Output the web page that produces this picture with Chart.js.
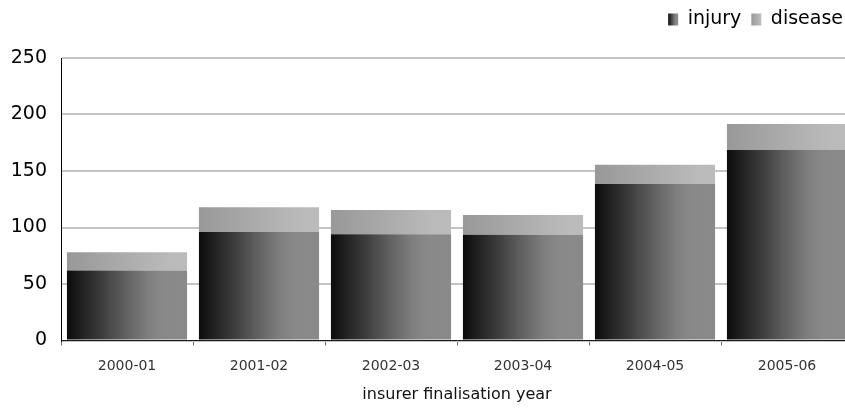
<!DOCTYPE html>
<html>
<head>
<meta charset="utf-8">
<script src="https://cdn.jsdelivr.net/npm/chart.js@4/dist/chart.umd.min.js"></script>
<style>
  html, body { margin: 0; padding: 0; background: #fff; }
  #wrap { width: 845px; height: 408px; overflow: hidden; }
  canvas { display: block; }
</style>
</head>
<body>
<div id="wrap"><canvas id="c" width="853" height="408"></canvas></div>
<script>
// Finalised claims by insurer finalisation year
const years = ['2000-01', '2001-02', '2002-03', '2003-04', '2004-05', '2005-06'];
const injury = [62, 96, 94, 93.5, 138.5, 168.5];
const disease = [16, 22, 21.5, 17.5, 17, 23];
const yTicks = [0, 50, 100, 150, 200, 250];
const seriesNames = ['injury', 'disease'];
const axisTitle = 'insurer finalisation year';

const FONT = "'DejaVu Sans', 'Liberation Sans', Arial, sans-serif";

// Horizontal shading used for each bar segment
const injuryStops = [[0, '#0c0c0c'], [0.33, '#444444'], [0.5, '#636363'], [0.67, '#7e7e7e'], [0.8, '#898989'], [1, '#8a8a8a']];
const diseaseStops = [[0, '#989898'], [0.5, '#acacac'], [0.85, '#bababa'], [1, '#bbbbbb']];

function makeGradient(ctx2d, x0, x1, stops) {
  const g = ctx2d.createLinearGradient(x0, 0, x1, 0);
  stops.forEach(([o, c]) => g.addColorStop(o, c));
  return g;
}

const BAR_PCT = 0.91;
const LEGEND_BAND = 58; // height reserved above the plot for the legend row

function barFill(stops, fallback) {
  return (ctx) => {
    const chart = ctx.chart;
    if (ctx.type !== 'data' || !chart.chartArea || !chart.scales.x) return fallback;
    const xs = chart.scales.x;
    const cx = xs.getPixelForValue(ctx.dataIndex);
    const half = (xs.width / years.length) * BAR_PCT / 2;
    return makeGradient(chart.ctx, cx - half, cx + half, stops);
  };
}

// Reserve a fixed band for the legend, with its row kept at the top
const legendBand = {
  id: 'legendBand',
  beforeLayout(chart) {
    const lg = chart.legend;
    if (!lg || lg._bandPatched) return;
    const fit = lg.fit.bind(lg);
    lg.fit = function () { fit(); this.height = LEGEND_BAND; };
    lg._bandPatched = true;
  }
};

// Give the legend swatches the same shading as the bars
const legendShade = {
  id: 'legendShade',
  beforeDraw(chart) {
    const lg = chart.legend;
    if (!lg || !lg.legendItems || !lg.legendHitBoxes) return;
    const all = [injuryStops, diseaseStops];
    lg.legendItems.forEach((item, i) => {
      const hb = lg.legendHitBoxes[i];
      if (!hb) return;
      item.fillStyle = makeGradient(chart.ctx, hb.left, hb.left + 10, all[item.datasetIndex]);
      item.strokeStyle = 'rgba(0,0,0,0)';
      item.lineWidth = 0;
    });
  }
};

new Chart(document.getElementById('c'), {
  type: 'bar',
  data: {
    labels: years,
    datasets: [
      { label: seriesNames[0], data: injury, backgroundColor: barFill(injuryStops, '#555555'), borderWidth: 0 },
      { label: seriesNames[1], data: disease, backgroundColor: barFill(diseaseStops, '#aaaaaa'), borderWidth: 0 }
    ]
  },
  options: {
    responsive: false,
    animation: false,
    devicePixelRatio: 1,
    barPercentage: BAR_PCT,
    categoryPercentage: 1,
    layout: { padding: { left: 0, right: 0, top: 0, bottom: 0 } },
    plugins: {
      tooltip: { enabled: false },
      legend: {
        position: 'top',
        align: 'end',
        labels: {
          boxWidth: 10,
          boxHeight: 12,
          padding: 10,
          color: '#000',
          font: { family: FONT, size: 19 }
        }
      }
    },
    scales: {
      x: {
        stacked: true,
        grid: {
          offset: true,
          drawOnChartArea: false,
          drawTicks: true,
          tickLength: 5,
          color: '#707070'
        },
        border: { display: true, color: '#1a1a1a', width: 1 },
        ticks: { color: '#333', font: { family: FONT, size: 14 }, padding: 12, maxRotation: 0 },
        title: {
          display: true,
          text: axisTitle,
          color: '#111',
          font: { family: FONT, size: 16 },
          padding: { top: 0, bottom: 4 }
        },
        afterFit(scale) { scale.height = 67.5; }
      },
      y: {
        stacked: true,
        min: yTicks[0],
        max: yTicks[yTicks.length - 1],
        afterBuildTicks(scale) { scale.ticks = yTicks.map(v => ({ value: v })); },
        grid: { color: '#c4c4c4', lineWidth: 2, drawTicks: false },
        border: { display: true, color: '#000', width: 1 },
        ticks: { color: '#000', font: { family: FONT, size: 19 }, padding: 14 },
        afterFit(scale) { scale.width = 61; }
      }
    }
  },
  plugins: [legendBand, legendShade]
});
</script>
</body>
</html>
